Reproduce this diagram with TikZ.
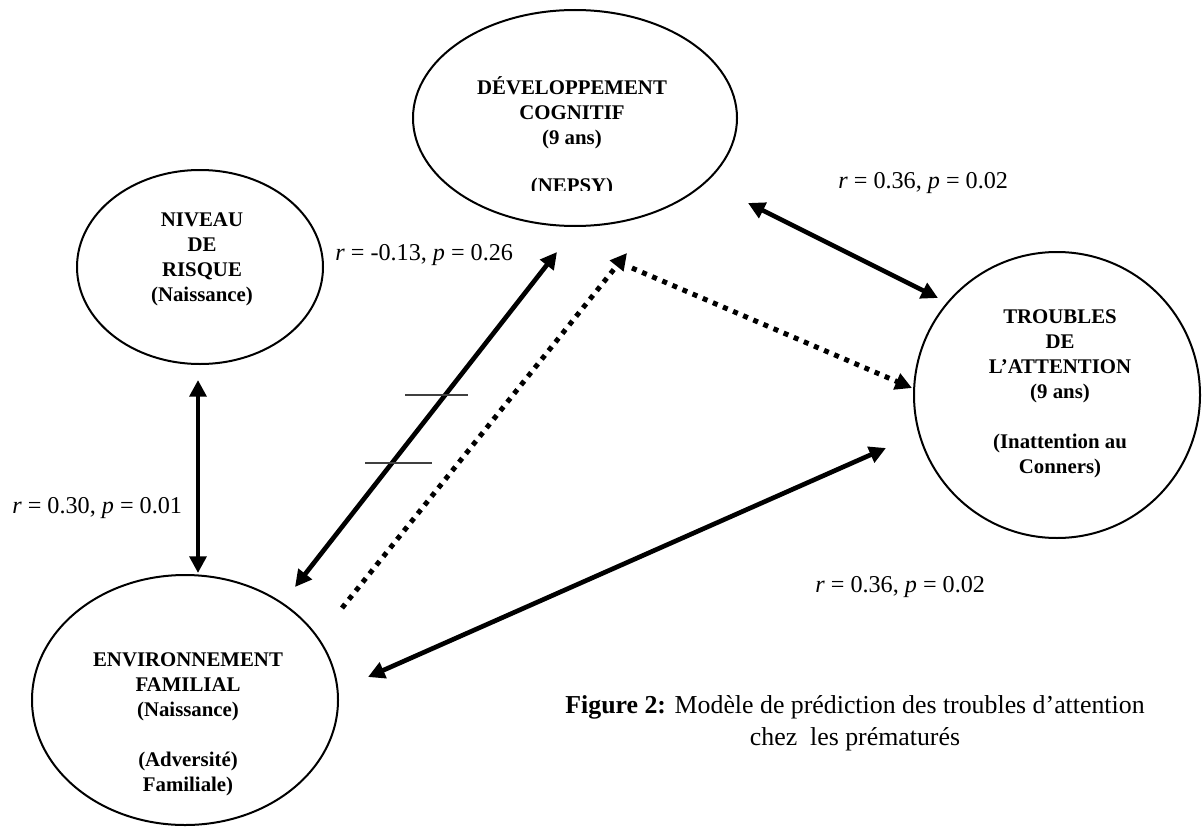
\documentclass[tikz,border=0pt]{standalone}
\usepackage{fontspec}
\setmainfont{Liberation Serif}
\usetikzlibrary{arrows.meta,shapes.geometric}
\begin{document}
\begin{tikzpicture}[x=0.6pt,y=-0.6pt,
  oval/.style={draw,line width=1.2pt,ellipse,inner sep=0pt},
  txt/.style={font=\fontsize{12.5}{15}\selectfont\bfseries,align=center,inner sep=0pt},
  lbl/.style={font=\fontsize{14.5}{17}\selectfont,inner sep=0pt,anchor=base west},
  dbl/.style={line width=2.8pt,{Triangle[length=10pt,width=10pt]}-{Triangle[length=10pt,width=10pt]}},
  dots/.style={line width=3pt,dash pattern=on 3pt off 3.6pt,-{Triangle[length=10pt,width=10pt]}},
  tickmark/.style={line width=0.9pt,black!75}
]
\useasboundingbox (0,0) rectangle (1202,836);
% ellipses
\node[oval,minimum width=194.4pt,minimum height=129.6pt] (dev) at (575,118) {};
\node[oval,minimum width=147.6pt,minimum height=116.4pt] (niv) at (200,267) {};
\node[oval,minimum width=183.6pt,minimum height=150pt] (env) at (185,700) {};
\node[oval,minimum width=171.6pt,minimum height=171.6pt] (trb) at (1057,395) {};
% texts
\node[txt] (devt) at (572,113) {DÉVELOPPEMENT\\COGNITIF\\(9 ans)};
\begin{scope}
\clip (450,160) rectangle (700,190);
\node[txt] (nepsy) at (572,187) {(NEPSY)};
\end{scope}
\node[txt] (nivt) at (202,259) {NIVEAU\\DE\\RISQUE\\(Naissance)};
\node[txt] (envt) at (188,724) {ENVIRONNEMENT\\FAMILIAL\\(Naissance)\\[15pt](Adversité)\\Familiale)};
\node[txt] (trbt) at (1060,394) {TROUBLES\\DE\\L’ATTENTION\\(9 ans)\\[15pt](Inattention au\\Conners)};
% labels
\node[lbl] (l1) at (335,260) {\textit{r} = -0.13, \textit{p} = 0.26};
\node[lbl] (l2) at (838,188) {\textit{r} = 0.36, \textit{p} = 0.02};
\node[lbl] (l3) at (12,513) {\textit{r} = 0.30, \textit{p} = 0.01};
\node[lbl] (l4) at (815,592) {\textit{r} = 0.36, \textit{p} = 0.02};
% caption
\node[font=\fontsize{15.5}{19}\selectfont,align=center,inner sep=0pt,anchor=base] (cap) at (855,745)
  {\textbf{Figure 2:} Modèle de prédiction des troubles d’attention\\chez\ \ les prématurés};
% arrow end points
\coordinate (v1) at (198,380);
\coordinate (v2) at (198,573);
\coordinate (a1) at (295,587);
\coordinate (a2) at (557,252);
\coordinate (d1) at (342,608);
\coordinate (d2) at (627,253);
\coordinate (e1) at (632,268);
\coordinate (e2) at (912,388);
\coordinate (b1) at (748,203);
\coordinate (b2) at (938,298);
\coordinate (c1) at (368,677);
\coordinate (c2) at (886,448);
\coordinate (t1a) at (405,395);
\coordinate (t1b) at (468,395);
\coordinate (t2a) at (365,463);
\coordinate (t2b) at (432,463);
% connectors
\draw[dbl] (v1) -- (v2);
\draw[dbl] (a1) -- (a2);
\draw[dots] (d1) -- (d2);
\draw[dots] (e1) -- (e2);
\draw[dbl] (b1) -- (b2);
\draw[dbl] (c1) -- (c2);
\draw[tickmark] (t1a) -- (t1b);
\draw[tickmark] (t2a) -- (t2b);
\end{tikzpicture}
\end{document}
